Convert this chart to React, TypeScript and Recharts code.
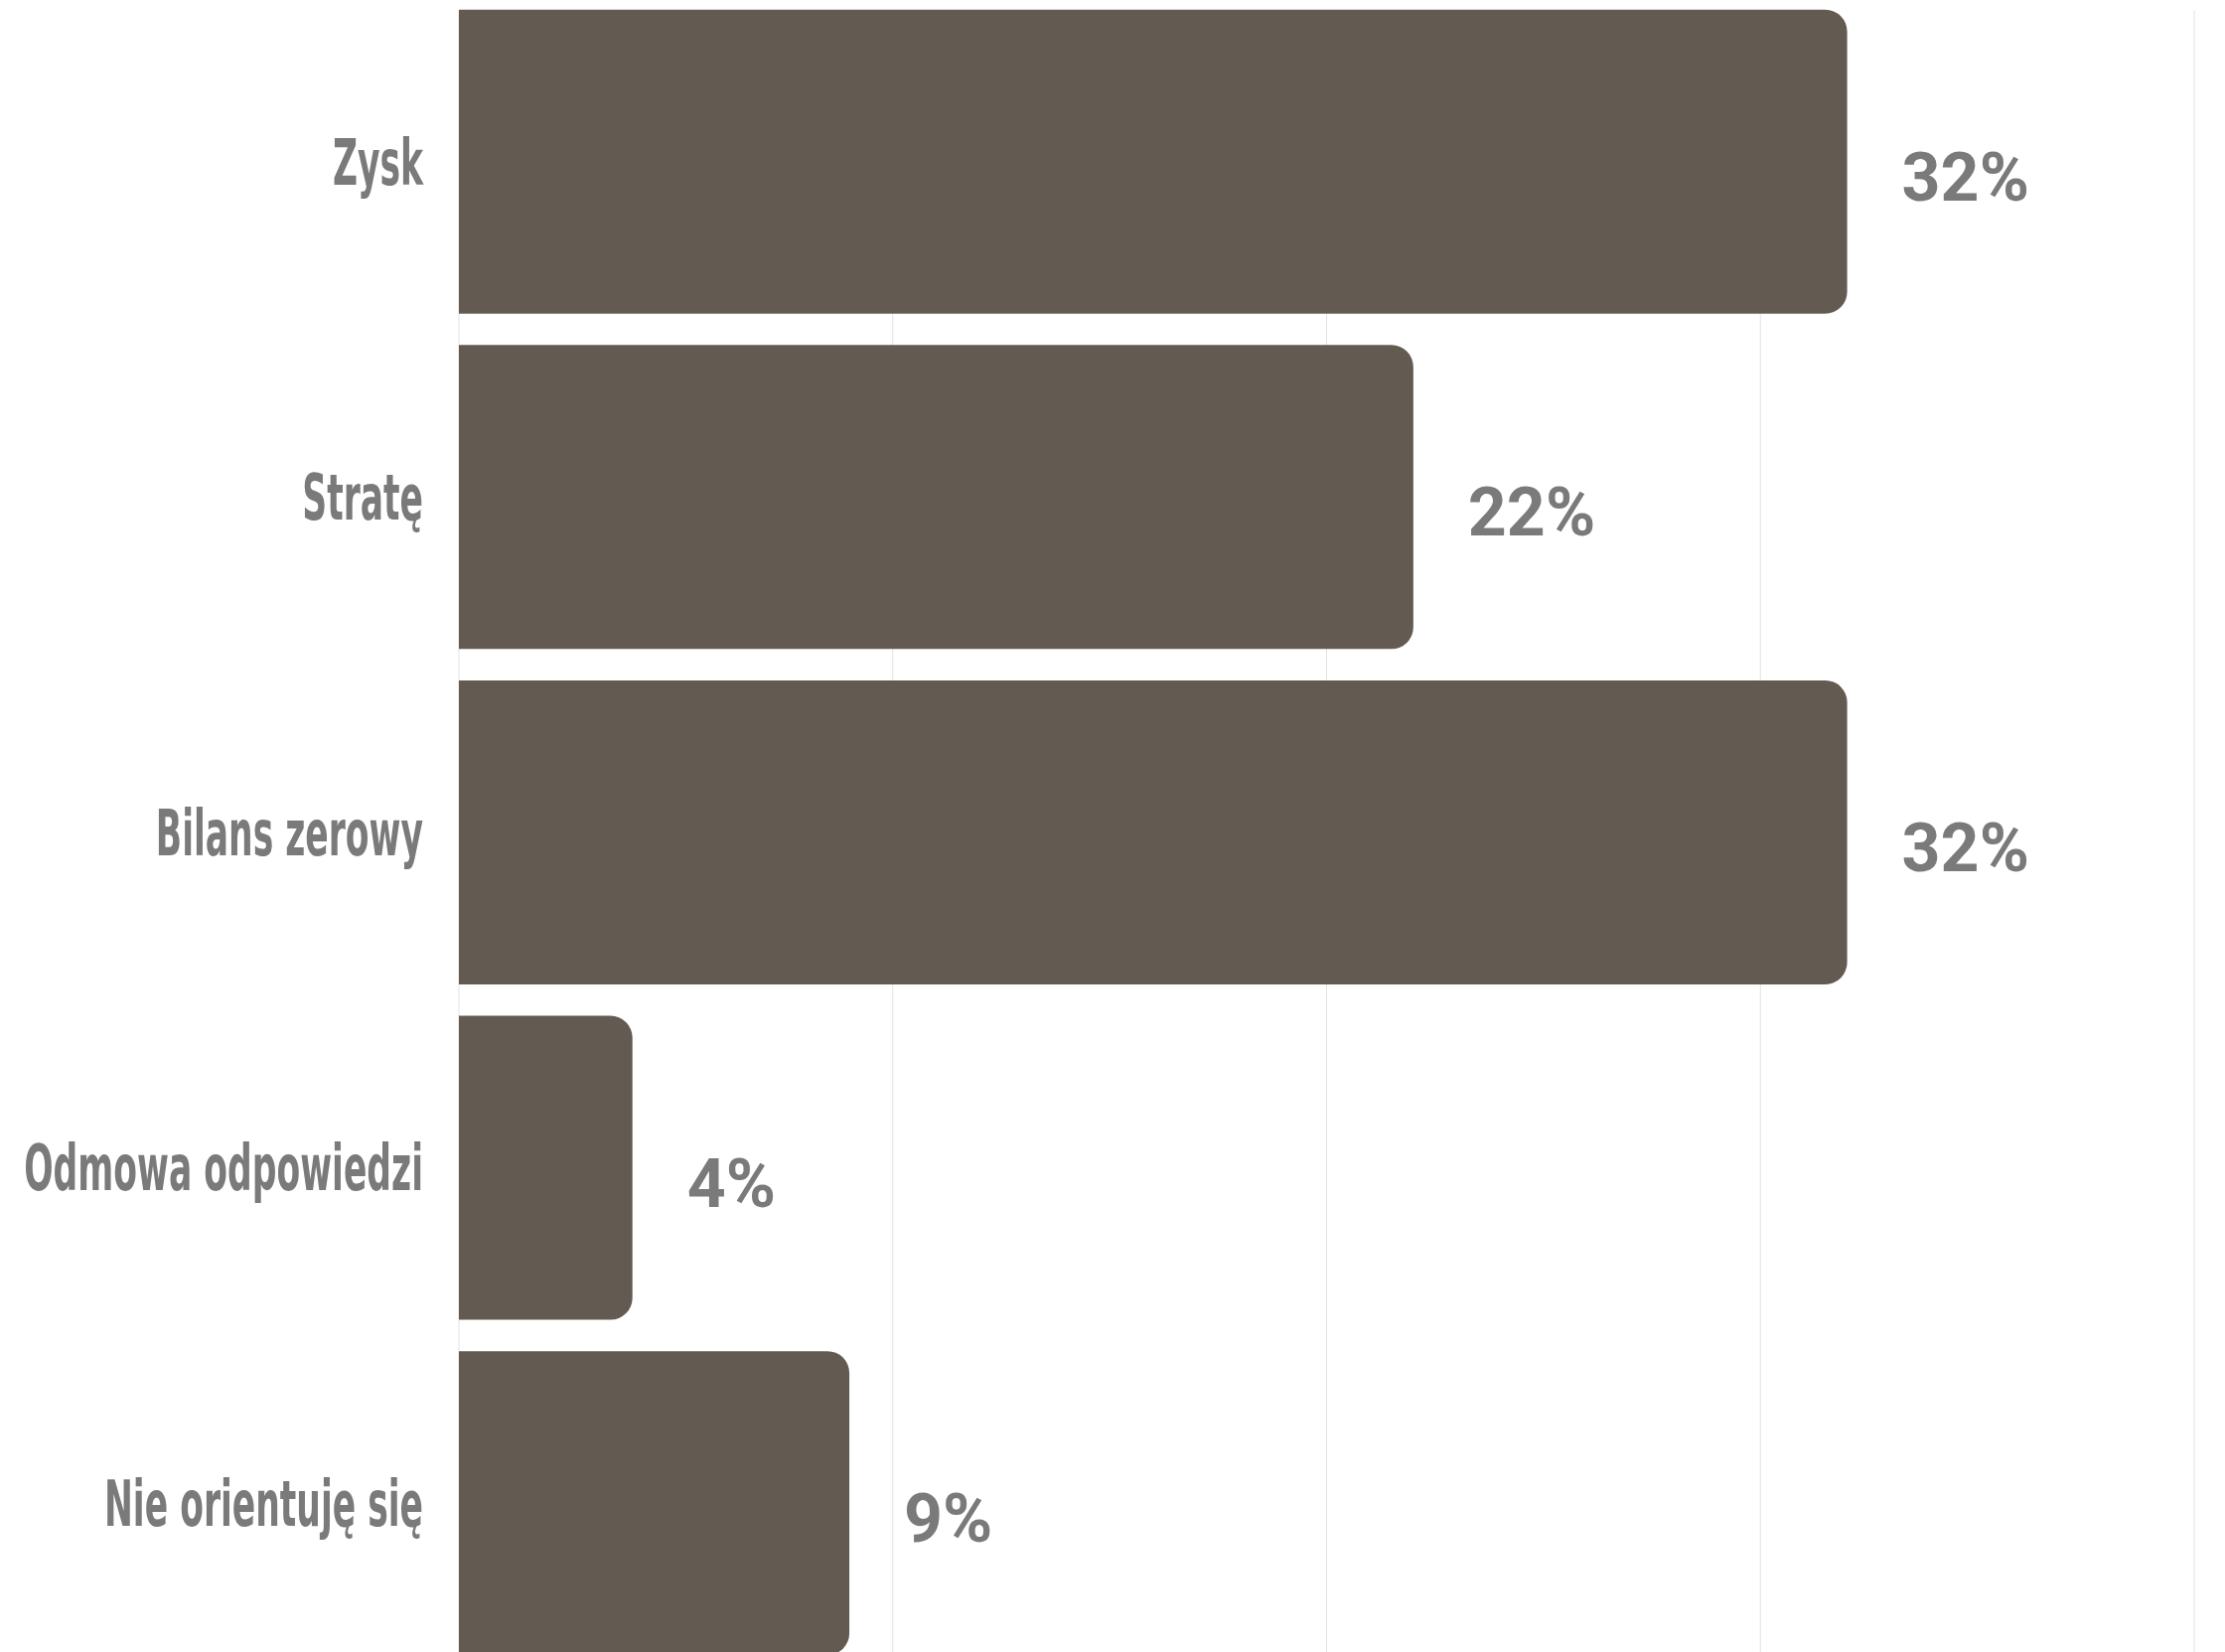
import { BarChart, Bar, XAxis, YAxis, CartesianGrid, LabelList } from "recharts";

const categories = ["Zysk", "Stratę", "Bilans zerowy", "Odmowa odpowiedzi", "Nie orientuję się"];
const values = [32, 22, 32, 4, 9];
const xTicks = [0, 10, 20, 30, 40];

const data = categories.map((name, i) => ({ name, value: values[i] }));

const BAR_COLOR = "#635a51";
const TEXT_COLOR = "#7a7a7a";

const CategoryTick = (props: any) => {
  const { x, y, payload } = props;
  return (
    <g transform={`translate(${x},${y}) scale(0.6,1)`}>
      <text
        x={0}
        y={0}
        dy="0.355em"
        textAnchor="end"
        fill={TEXT_COLOR}
        fontSize={64}
        fontWeight={700}
        fontFamily="'DejaVu Sans Condensed', 'DejaVu Sans', sans-serif"
      >
        {payload.value}
      </text>
    </g>
  );
};

const ValueLabel = (props: any) => {
  const { x, y, width, height, value } = props;
  return (
    <text
      x={x + width + 55}
      y={y + height / 2 + 15}
      dy="0.355em"
      fill={TEXT_COLOR}
      fontSize={68}
      fontWeight={700}
      fontFamily="Roboto, sans-serif"
    >
      {value}%
    </text>
  );
};

export default function App() {
  return (
    <div style={{ position: "absolute", left: 0, top: -6 }}>
      <BarChart
        width={2240}
        height={1688}
        data={data}
        layout="vertical"
        margin={{ top: 0, right: 31, bottom: 0, left: 0 }}
        barCategoryGap={15.75}
      >
        <CartesianGrid horizontal={false} stroke="#e2e2e2" y={16} height={1700} />
        <XAxis type="number" domain={[0, 40]} ticks={xTicks} hide />
        <YAxis
          type="category"
          dataKey="name"
          width={462}
          axisLine={false}
          tickLine={false}
          tickSize={0}
          tickMargin={36}
          tick={<CategoryTick />}
        />
        <Bar dataKey="value" fill={BAR_COLOR} radius={[0, 22, 22, 0]} isAnimationActive={false}>
          <LabelList dataKey="value" content={<ValueLabel />} />
        </Bar>
      </BarChart>
    </div>
  );
}
